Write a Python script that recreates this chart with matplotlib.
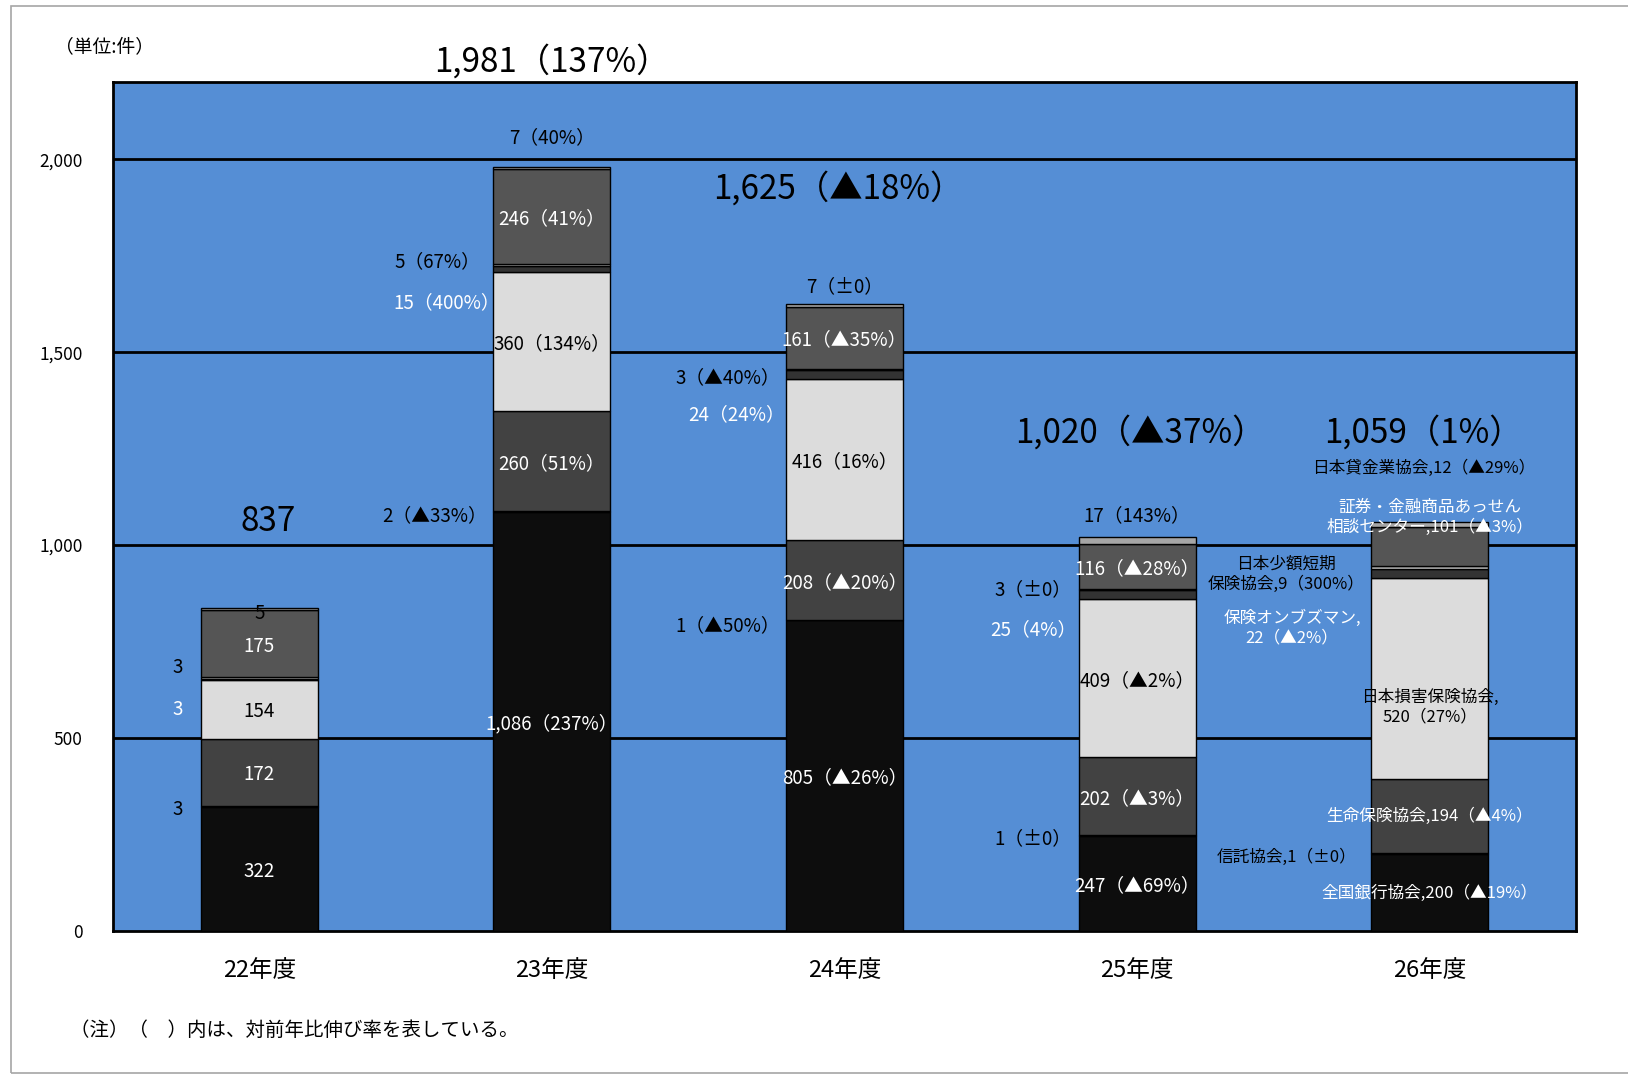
import numpy as np
import matplotlib
matplotlib.use('Agg')
import matplotlib.pyplot as plt
from matplotlib.patches import Rectangle

plt.rcParams['font.family'] = ['Noto Sans CJK JP', 'DejaVu Sans']

# data (件数), bottom to top
years = ['22年度', '23年度', '24年度', '25年度', '26年度']
zengin = [322, 1086, 805, 247, 200]      # 全国銀行協会
shintaku = [3, 2, 1, 1, 1]               # 信託協会
seiho = [172, 260, 208, 202, 194]        # 生命保険協会
sonpo = [154, 360, 416, 409, 520]        # 日本損害保険協会
ombuds = [3, 15, 24, 25, 22]             # 保険オンブズマン
shogaku = [3, 5, 3, 3, 9]                # 日本少額短期保険協会
shoken = [175, 246, 161, 116, 101]       # 証券・金融商品あっせん相談センター
kashikin = [5, 7, 7, 17, 12]             # 日本貸金業協会

totals = ['837', '1,981（137%）', '1,625（▲18%）', '1,020（▲37%）', '1,059（1%）']

# labels inside the big segments
zengin_lbl = ['322', '1,086（237%）', '805（▲26%）', '247（▲69%）']
seiho_lbl = ['172', '260（51%）', '208（▲20%）', '202（▲3%）']
sonpo_lbl = ['154', '360（134%）', '416（16%）', '409（▲2%）']
shoken_lbl = ['175', '246（41%）', '161（▲35%）', '116（▲28%）']
# labels beside the small segments
shintaku_lbl = ['3', '2（▲33%）', '1（▲50%）', '1（±0）']
ombuds_lbl = ['3', '15（400%）', '24（24%）', '25（4%）']
shogaku_lbl = ['3', '5（67%）', '3（▲40%）', '3（±0）']
kashikin_lbl = ['5', '7（40%）', '7（±0）', '17（143%）']

# 26年度 labels with names
lbl26 = ['全国銀行協会,200（▲19%）', '信託協会,1（±0）', '生命保険協会,194（▲4%）',
         '日本損害保険協会,\n520（27%）', '保険オンブズマン,\n22（▲2%）',
         '日本少額短期\n保険協会,9（300%）', '証券・金融商品あっせん\n相談センター,101（▲3%）',
         '日本貸金業協会,12（▲29%）']

series = [zengin, shintaku, seiho, sonpo, ombuds, shogaku, shoken, kashikin]
colors = ['#0d0d0d', '#c8c8c8', '#424242', '#dcdcdc', '#333333', '#c0c0c0', '#555555', '#a6a6a6']

fig = plt.figure(figsize=(16.28, 10.75), dpi=100)
ax = fig.add_axes([0.0694, 0.134, 0.8986, 0.7897])
ax.set_facecolor('#558ed5')

x = np.arange(len(years))
width = 0.4
bottom = np.zeros(len(years))
bottoms = []
for s, c in zip(series, colors):
    bottoms.append(bottom.copy())
    ax.bar(x, s, width, bottom=bottom, color=c, edgecolor='black', linewidth=1, zorder=3)
    bottom = bottom + np.array(s)

ax.set_xlim(-0.5, 4.5)
ax.set_ylim(0, 2200)
ax.set_yticks([0, 500, 1000, 1500, 2000])
ax.set_yticklabels(['0', '500', '1,000', '1,500', '2,000'], fontsize=12.5)
ax.set_xticks(x)
ax.set_xticklabels(years, fontsize=17)
ax.tick_params(length=0)
ax.tick_params(axis='y', pad=22)
ax.tick_params(axis='x', pad=20)
for v in [500, 1000, 1500, 2000]:
    ax.axhline(v, color='black', lw=2, zorder=2)
for sp in ax.spines.values():
    sp.set_linewidth(2)

fs = 13.5
va = 'center_baseline'
# segment labels at mid points (22-25年度)
for lbls, si, col in [(zengin_lbl, 0, 'white'), (seiho_lbl, 2, 'white'),
                      (sonpo_lbl, 3, 'black'), (shoken_lbl, 6, 'white')]:
    for i in range(4):
        ym = bottoms[si][i] + series[si][i] / 2.0
        ax.text(x[i], ym, lbls[i], ha='center', va=va, color=col, fontsize=fs, zorder=5)

# side labels for the thin segments
side_dx = [-0.28, -0.39, -0.40, -0.355]
ax.text(0, 828, kashikin_lbl[0], ha='center', va=va, fontsize=fs, zorder=5)
for i, y in zip([1, 2, 3], [2062, 1677, 1083]):
    ax.text(x[i], y, kashikin_lbl[i], ha='center', va=va, fontsize=fs, zorder=5)
for i, (ys, yo, yt) in enumerate([(688, 581, 320), (1742, 1634, 1083), (1441, 1344, 798), (890, 788, 245)]):
    ax.text(x[i] + side_dx[i], ys, shogaku_lbl[i], ha='center', va=va, fontsize=fs, zorder=5)
    ax.text(x[i] + side_dx[i] + (0.03 if i in (1, 2) else 0), yo, ombuds_lbl[i], ha='center', va=va,
            color='white', fontsize=fs, zorder=5)
    ax.text(x[i] + side_dx[i] - (0.01 if i == 1 else 0), yt, shintaku_lbl[i], ha='center', va=va,
            fontsize=fs, zorder=5)

# totals
tot_pos = [(0.03, 1072), (0.0, 2261), (-0.02, 1933), (0.01, 1301), (-0.02, 1301)]
for i, (dx, y) in enumerate(tot_pos):
    ax.text(x[i] + dx, y, totals[i], ha='center', va=va, fontsize=24, zorder=5, clip_on=False)

# 26年度 annotations
fs2 = 12
pos26 = [(0.0, 97, 'white'), (-0.49, 191, 'black'), (0.0, 296, 'white'), (0.0, 580, 'black'),
         (-0.47, 785, 'white'), (-0.49, 925, 'black'), (0.0, 1072, 'white'), (-0.02, 1199, 'black')]
for t, (dx, y, col) in zip(lbl26, pos26):
    ax.text(x[4] + dx, y, t, ha='center', va='center', color=col, fontsize=fs2, zorder=5,
            linespacing=1.25)

fig.text(55 / 1628, 1 - 47 / 1075, '（単位:件）', ha='left', va='center', fontsize=13.5)
fig.text(70 / 1628, 1 - 1030 / 1075, '（注）（　）内は、対前年比伸び率を表している。', ha='left', va='center', fontsize=14)

fig.patches.append(Rectangle((11 / 1628, 2 / 1075), 1.0, 1 - 8 / 1075, transform=fig.transFigure,
                             fill=False, edgecolor='#a6a6a6', lw=1.2))

plt.savefig('out.png', dpi=100)
